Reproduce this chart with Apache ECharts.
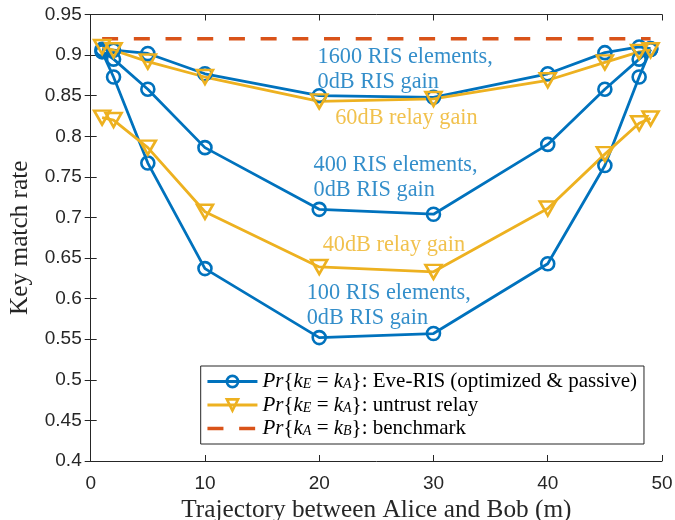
<!DOCTYPE html>
<html>
<head>
<meta charset="utf-8">
<script src="https://cdn.jsdelivr.net/npm/echarts@6/dist/echarts.min.js"></script>
<style>html,body{margin:0;padding:0;background:#fff;}#c{width:675px;height:520px;}</style>
</head>
<body>
<div id="c"></div>
<script>
// ---- data ----
var xValues = [1, 2, 5, 10, 20, 30, 40, 45, 48, 49];
var ris1600 = [0.907, 0.906, 0.902, 0.877, 0.850, 0.848, 0.877, 0.903, 0.910, 0.908];
var ris400  = [0.905, 0.895, 0.858, 0.786, 0.710, 0.704, 0.790, 0.858, 0.895, 0.907];
var ris100  = [0.904, 0.873, 0.767, 0.637, 0.552, 0.557, 0.643, 0.764, 0.873, 0.907];
var relay60 = [0.910, 0.906, 0.892, 0.873, 0.843, 0.846, 0.869, 0.891, 0.904, 0.906];
var relay40 = [0.823, 0.820, 0.786, 0.707, 0.639, 0.633, 0.711, 0.778, 0.816, 0.822];
var bench   = [0.92, 0.92, 0.92, 0.92, 0.92, 0.92, 0.92, 0.92, 0.92, 0.92];
var xTicks = [0, 10, 20, 30, 40, 50];
var yTicks = [0.4, 0.45, 0.5, 0.55, 0.6, 0.65, 0.7, 0.75, 0.8, 0.85, 0.9, 0.95];
var annotX = [19.85, 21.4, 19.5, 20.3, 18.9];
var annotY = [0.8822, 0.8221, 0.7486, 0.6661, 0.5912];
var annotText = ['1600 RIS elements,\n0dB RIS gain', '60dB relay gain', '400 RIS elements,\n0dB RIS gain', '40dB relay gain', '100 RIS elements,\n0dB RIS gain'];
var annotKind = ['ris', 'relay', 'ris', 'relay', 'ris'];
var legendNames = ['Pr{k_E = k_A}: Eve-RIS (optimized & passive)', 'Pr{k_E = k_A}: untrust relay', 'Pr{k_A = k_B}: benchmark'];
var legendRich = [
  '{it|Pr}{n|{}{it|k}{sub|E}{n| = }{it|k}{sub|A}}{n|: Eve-RIS (optimized & passive)}',
  '{it|Pr}{n|{}{it|k}{sub|E}{n| = }{it|k}{sub|A}}{n|: untrust relay}',
  '{it|Pr}{n|{}{it|k}{sub|A}{n| = }{it|k}{sub|B}}{n|: benchmark}'
];

var BLUE = '#0072BD', YEL = '#EDB120', RED = '#D95319', AX = '#262626';
var SERIF = 'Liberation Serif';
var LW = 2.8, MW = 2.6;

function pairs(ys) { return xValues.map(function (x, i) { return [x, ys[i]]; }); }

function risSeries(ys) {
  return {
    name: legendNames[0], type: 'line', data: pairs(ys),
    symbol: 'circle', symbolSize: 13,
    lineStyle: { color: BLUE, width: LW },
    itemStyle: { color: 'rgba(255,255,255,0)', borderColor: BLUE, borderWidth: MW },
    color: BLUE, animation: false, silent: true
  };
}
function relaySeries(ys) {
  return {
    name: legendNames[1], type: 'line', data: pairs(ys),
    symbol: 'triangle', symbolRotate: 180, symbolSize: [16, 14],
    lineStyle: { color: YEL, width: LW },
    itemStyle: { color: 'rgba(255,255,255,0)', borderColor: YEL, borderWidth: MW },
    color: YEL, animation: false, silent: true
  };
}

var annotData = annotX.map(function (x, i) {
  return {
    value: [x, annotY[i]],
    label: { formatter: annotText[i], color: annotKind[i] === 'ris' ? BLUE : YEL }
  };
});

var axisCommon = {
  axisLine: { show: true, lineStyle: { color: AX, width: 1 } },
  axisTick: { show: true, inside: true, length: 6, lineStyle: { color: AX, width: 1 } },
  splitLine: { show: false }
};

var option = {
  backgroundColor: '#fff',
  animation: false,
  grid: { left: 90.7, right: 13, top: 14.5, bottom: 59, containLabel: false, outerBoundsMode: 'none' },
  xAxis: [
    Object.assign({
      type: 'value', min: 0, max: 50, interval: 10, position: 'bottom',
      axisLabel: { color: AX, fontFamily: 'Liberation Sans', fontSize: 19, margin: 13,
        formatter: function (v) { return xTicks.indexOf(v) >= 0 ? String(v) : ''; } },
      name: 'Trajectory between Alice and Bob (m)', nameLocation: 'middle', nameGap: 36,
      nameTextStyle: { fontFamily: SERIF, fontSize: 25.3, color: AX }
    }, axisCommon),
    Object.assign({
      type: 'value', min: 0, max: 50, interval: 10, position: 'top',
      axisLabel: { show: false }
    }, axisCommon)
  ],
  yAxis: [
    Object.assign({
      type: 'value', min: 0.4, max: 0.95, interval: 0.05, position: 'left',
      axisLabel: { color: AX, fontFamily: 'Liberation Sans', fontSize: 19, margin: 9,
        formatter: function (v) { var r = +v.toFixed(2); var k = yTicks.indexOf(r); return k >= 0 ? String(yTicks[k]) : ''; } },
      name: 'Key match rate', nameLocation: 'middle', nameGap: 58,
      nameTextStyle: { fontFamily: SERIF, fontSize: 25.3, color: AX }
    }, axisCommon),
    Object.assign({
      type: 'value', min: 0.4, max: 0.95, interval: 0.05, position: 'right',
      axisLabel: { show: false }
    }, axisCommon)
  ],
  legend: {
    data: [
      { name: legendNames[0], lineStyle: { width: LW }, itemStyle: { borderWidth: MW } },
      { name: legendNames[1], lineStyle: { width: LW }, itemStyle: { borderWidth: MW } },
      { name: legendNames[2], lineStyle: { width: 3.5 }, itemStyle: { color: 'rgba(0,0,0,0)', borderColor: 'rgba(0,0,0,0)', borderWidth: 0, opacity: 0 } }
    ],
    orient: 'vertical',
    left: 200.7, top: 366,
    itemWidth: 50, itemHeight: 14, itemGap: 2.5, itemTextGap: 6,
    padding: [5, 7, 5, 5],
    backgroundColor: '#fff', borderColor: AX, borderWidth: 1, borderRadius: 0,
    selectedMode: false,
    formatter: function (name) { return legendRich[legendNames.indexOf(name)]; },
    textStyle: {
      fontFamily: SERIF, fontSize: 21, color: '#000', lineHeight: 20,
      rich: {
        it: { fontFamily: SERIF, fontStyle: 'italic', fontSize: 21, lineHeight: 20, color: '#000' },
        n: { fontFamily: SERIF, fontSize: 21, lineHeight: 20, color: '#000' },
        sub: { fontFamily: SERIF, fontStyle: 'italic', fontSize: 14, color: '#000', verticalAlign: 'bottom' }
      }
    }
  },
  series: [
    risSeries(ris1600),
    risSeries(ris400),
    risSeries(ris100),
    relaySeries(relay60),
    relaySeries(relay40),
    {
      name: legendNames[2], type: 'line', data: pairs(bench), symbol: 'none',
      lineStyle: { color: RED, width: 3.5, type: [16, 15.7] }, color: RED, silent: true
    },
    {
      name: 'annotations', type: 'scatter', data: annotData, symbolSize: 0, silent: true,
      label: {
        show: true, position: 'inside', align: 'left', verticalAlign: 'middle',
        fontFamily: SERIF, fontSize: 22.3, lineHeight: 25
      }
    }
  ]
};

var chart = echarts.init(document.getElementById('c'), null, { renderer: 'canvas' });
chart.setOption(option);
</script>
</body>
</html>
